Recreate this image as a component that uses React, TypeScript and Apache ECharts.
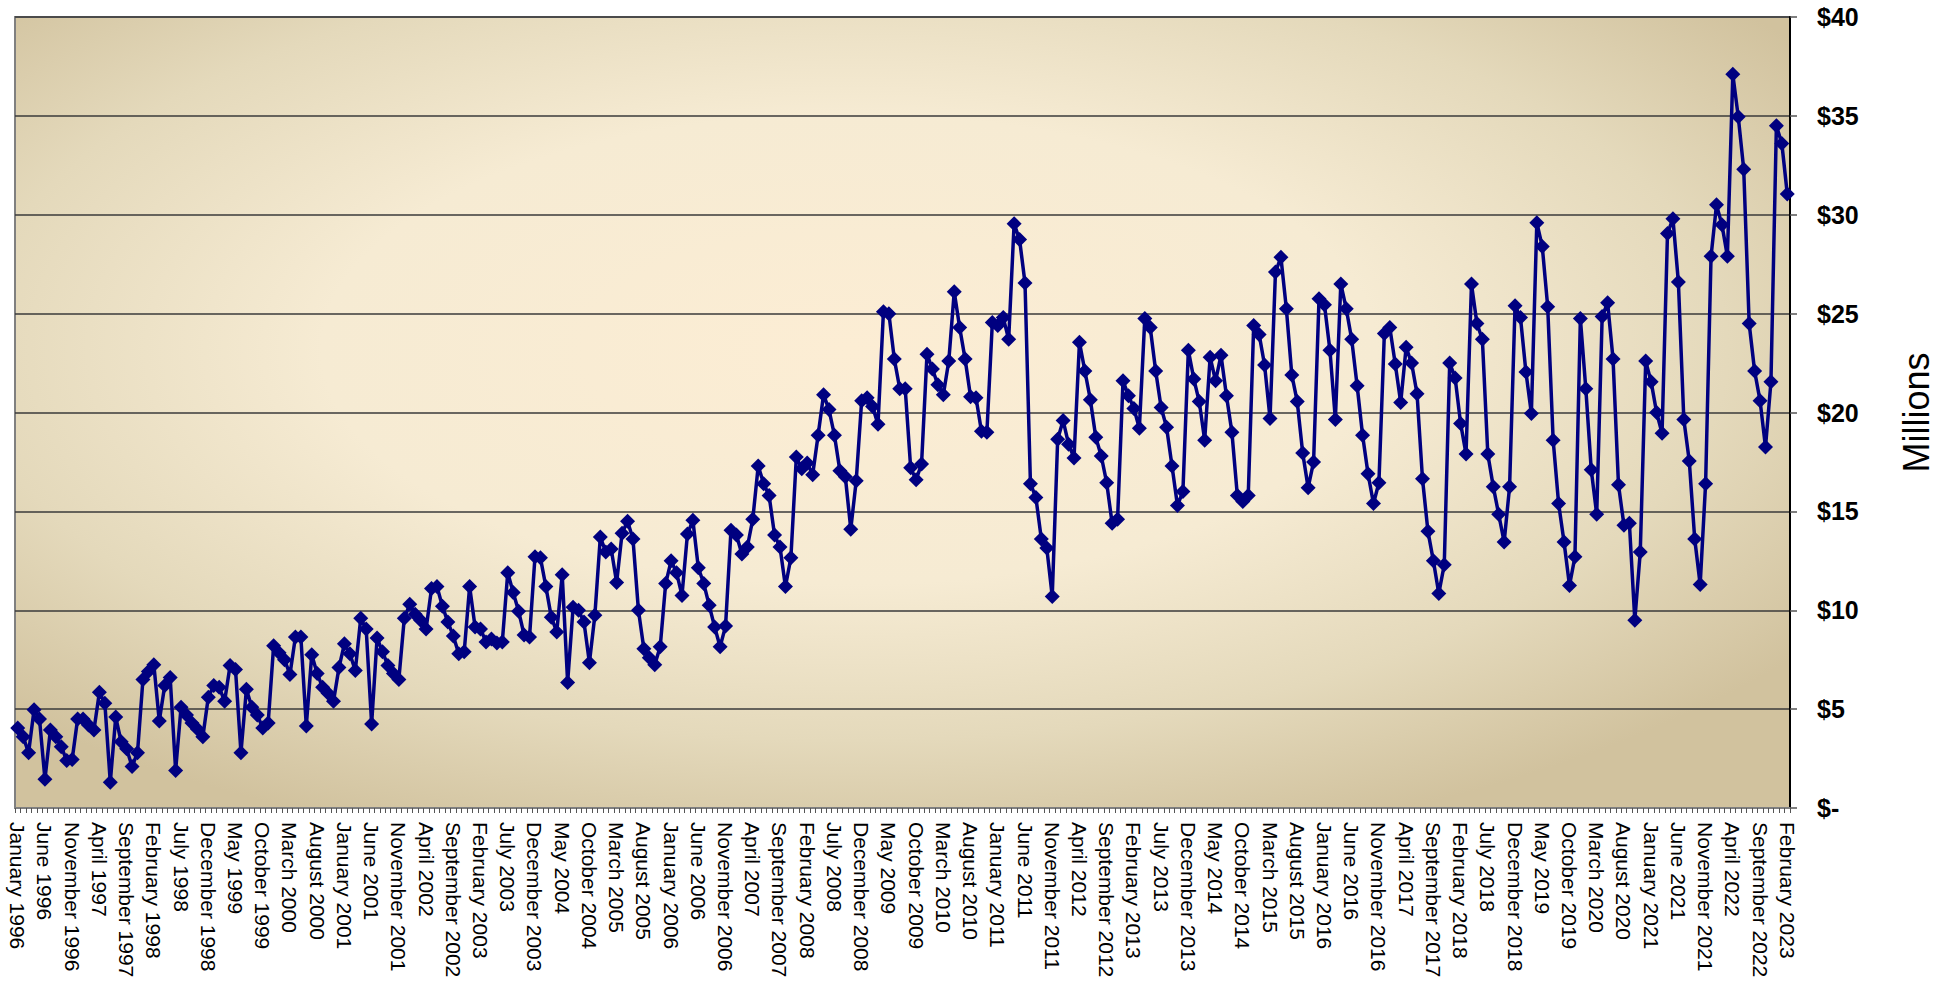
import React, { useEffect, useRef } from "react";
import * as echarts from "echarts";

const MONTHS = ["January","February","March","April","May","June","July","August","September","October","November","December"];
const START_YEAR = 1996;

const v1996 = [4.04,3.6,2.8,4.97,4.5,1.45,3.95,3.6,3.1,2.4,2.45,4.5];
const v1997 = [4.5,4.2,3.95,5.85,5.3,1.3,4.6,3.35,3.0,2.1,2.8,6.5];
const v1998 = [6.9,7.25,4.4,6.2,6.6,1.9,5.1,4.7,4.3,4.0,3.6,5.6];
const v1999 = [6.2,6.1,5.4,7.2,7.0,2.8,6.0,5.1,4.7,4.05,4.3,8.2];
const v2000 = [7.85,7.5,6.75,8.65,8.65,4.15,7.75,6.8,6.1,5.8,5.4,7.1];
const v2001 = [8.3,7.8,6.95,9.6,9.05,4.25,8.6,7.9,7.2,6.8,6.5,9.6];
const v2002 = [10.3,9.8,9.5,9.05,11.1,11.2,10.2,9.4,8.7,7.8,7.9,11.2];
const v2003 = [9.15,9.05,8.4,8.55,8.35,8.4,11.9,10.9,9.95,8.75,8.65,12.7];
const v2004 = [12.65,11.2,9.65,8.9,11.8,6.35,10.15,10.0,9.4,7.35,9.75,13.7];
const v2005 = [12.95,13.1,11.4,13.9,14.5,13.6,10.0,8.05,7.6,7.25,8.15,11.35];
const v2006 = [12.5,11.9,10.75,13.85,14.55,12.15,11.35,10.25,9.15,8.15,9.2,14.05];
const v2007 = [13.8,12.85,13.2,14.6,17.3,16.4,15.8,13.8,13.2,11.2,12.65,17.75];
const v2008 = [17.15,17.45,16.85,18.85,20.9,20.15,18.85,17.05,16.75,14.1,16.55,20.6];
const v2009 = [20.75,20.3,19.4,25.1,25.0,22.7,21.2,21.2,17.2,16.6,17.4,22.95];
const v2010 = [22.2,21.4,20.9,22.6,26.1,24.3,22.7,20.8,20.75,19.05,19.0,24.55];
const v2011 = [24.4,24.8,23.7,29.55,28.75,26.55,16.4,15.7,13.6,13.15,10.7,18.65];
const v2012 = [19.6,18.4,17.7,23.55,22.1,20.65,18.75,17.8,16.45,14.4,14.6,21.6];
const v2013 = [20.85,20.2,19.2,24.75,24.3,22.1,20.25,19.25,17.3,15.3,16.0,23.15];
const v2014 = [21.7,20.55,18.6,22.8,21.6,22.9,20.85,19.0,15.8,15.5,15.8,24.4];
const v2015 = [23.95,22.4,19.7,27.1,27.85,25.25,21.9,20.55,17.95,16.2,17.5,25.75];
const v2016 = [25.45,23.15,19.65,26.5,25.25,23.7,21.35,18.85,16.9,15.4,16.45,24.0];
const v2017 = [24.3,22.45,20.5,23.3,22.5,20.95,16.65,14.0,12.5,10.85,12.3,22.5];
const v2018 = [21.75,19.45,17.9,26.5,24.5,23.7,17.9,16.25,14.85,13.45,16.25,25.4];
const v2019 = [24.8,22.05,19.95,29.6,28.4,25.35,18.6,15.4,13.45,11.25,12.7,24.75];
const v2020 = [21.2,17.1,14.85,24.85,25.55,22.7,16.35,14.3,14.4,9.5,12.95,22.6];
const v2021 = [21.55,20.0,18.95,29.05,29.8,26.6,19.65,17.55,13.6,11.3,16.4,27.9];
const v2022 = [30.5,29.5,27.9,37.1,34.95,32.3,24.5,22.1,20.6,18.25,21.55,34.5];
const v2023 = [33.6,31.05];

const YEARLY = [v1996,v1997,v1998,v1999,v2000,v2001,v2002,v2003,v2004,v2005,v2006,v2007,v2008,v2009,v2010,v2011,v2012,v2013,v2014,v2015,v2016,v2017,v2018,v2019,v2020,v2021,v2022,v2023];

const VALUES: number[] = [];
const CATEGORIES: string[] = [];
YEARLY.forEach((arr, yi) => {
  arr.forEach((v, mi) => {
    VALUES.push(v);
    CATEGORIES.push(MONTHS[mi] + " " + (START_YEAR + yi));
  });
});

const FONT = "'Liberation Sans', Arial, sans-serif";

export default function App() {
  const ref = useRef<HTMLDivElement>(null);
  useEffect(() => {
    if (!ref.current) return;
    const chart = echarts.init(ref.current, undefined, { renderer: "svg" });
    chart.setOption({
      animation: false,
      backgroundColor: "#ffffff",
      grid: {
        left: 15,
        right: 139,
        top: 17,
        bottom: 188,
        show: true,
        borderColor: "#808080",
        borderWidth: 2,
        backgroundColor: {
          type: "radial",
          x: 0.47,
          y: 0.42,
          r: 0.66,
          colorStops: [
            { offset: 0, color: "#fcedd4" },
            { offset: 0.45, color: "#f6ebd3" },
            { offset: 0.75, color: "#e4d9bb" },
            { offset: 1, color: "#d1c29e" },
          ],
        },
      },
      xAxis: {
        type: "category",
        data: CATEGORIES,
        boundaryGap: true,
        axisLine: { show: true, lineStyle: { color: "#7f7f7f", width: 2 } },
        axisTick: { show: true, interval: 0, length: 5, lineStyle: { color: "#555555", width: 1 } },
        axisLabel: {
          interval: 4,
          rotate: -90,
          margin: 14,
          fontSize: 21,
          color: "#000000",
          fontFamily: FONT,
        },
        splitLine: { show: false },
      },
      yAxis: {
        type: "value",
        position: "right",
        min: 0,
        max: 40,
        interval: 5,
        name: "Millions",
        nameLocation: "middle",
        nameRotate: 90,
        nameGap: 108,
        nameTextStyle: { fontSize: 36, color: "#000000", fontFamily: FONT },
        axisLine: { show: true, lineStyle: { color: "#000000", width: 2 } },
        axisTick: { show: true, length: 7, lineStyle: { color: "#555555", width: 1.5 } },
        axisLabel: {
          margin: 27,
          fontSize: 25,
          fontWeight: "bold",
          color: "#000000",
          fontFamily: FONT,
          formatter: (v: number) => (v === 0 ? "$-" : "$" + v),
        },
        splitLine: { show: true, lineStyle: { color: "#3a3a3a", width: 1.5 } },
      },
      series: [
        {
          type: "line",
          data: VALUES,
          symbol: "diamond",
          symbolSize: 15,
          showAllSymbol: true,
          itemStyle: { color: "#000080" },
          lineStyle: { color: "#000080", width: 3.5 },
        },
      ],
    });
    return () => chart.dispose();
  }, []);
  return (
    <div
      ref={ref}
      style={{ position: "fixed", left: 0, top: 0, width: "1942px", height: "996px" }}
    />
  );
}
